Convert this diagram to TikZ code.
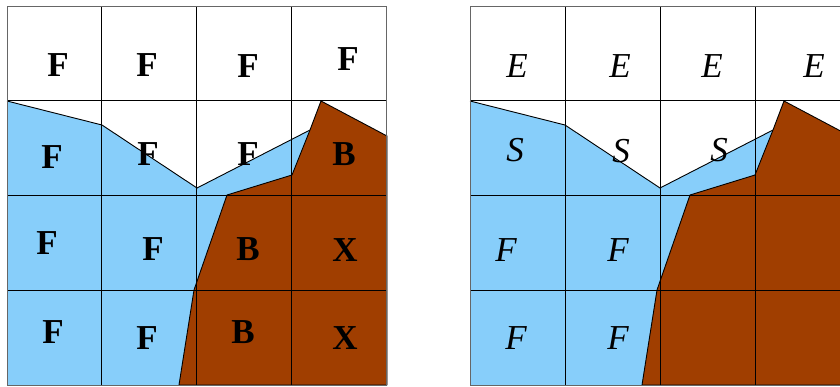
\documentclass[tikz,border=0pt]{standalone}
\usepackage{fontspec}
\setmainfont{Liberation Serif}
\definecolor{sky}{RGB}{135,206,250}
\definecolor{rust}{RGB}{160,62,0}
\tikzset{
  lbl/.style={inner sep=0pt, font=\fontsize{35}{35}\selectfont\bfseries},
  ilbl/.style={inner sep=0pt, font=\fontsize{35}{35}\selectfont\itshape},
  gridline/.style={black, line width=0.8pt},
  frame/.style={black!60, line width=1pt},
  edge/.style={black, line width=0.9pt},
  rock/.style={fill=rust, draw=black, line width=0.9pt, line join=round},
}
\begin{document}
\begin{tikzpicture}[x=1pt,y=-1pt]
\useasboundingbox (0,0) rectangle (840,386);
\fill[white] (0,0) rectangle (840,386);
\clip (0,0) rectangle (840,386);
% ---------- left grid ----------
\fill[sky] (7,101) -- (102,125) -- (197,188) -- (310,130) -- (292,175) -- (227,195) -- (194,290) -- (179,385) -- (7,385) -- cycle;
\draw[edge] (7,101) -- (102,125) -- (197,188) -- (310,130);
\filldraw[rock] (179,385) -- (194,290) -- (227,195) -- (292,175) -- (310,130) -- (321,101) -- (387,136) -- (387,385) -- cycle;
\foreach \x in {101.7,196.7,291.7} \draw[gridline] (\x,6) -- (\x,385);
\foreach \y in {100.7,195.3,290.3} \draw[gridline] (7,\y) -- (386,\y);
\draw[frame] (7,6) rectangle (386,385);
% labels left
\node[lbl] (l11) at (58,65) {F};
\node[lbl] (l12) at (147,65) {F};
\node[lbl] (l13) at (248,66) {F};
\node[lbl] (l14) at (348,59) {F};
\node[lbl] (l21) at (52,157) {F};
\node[lbl] (l22) at (148,154) {F};
\node[lbl] (l23) at (248,154) {F};
\node[lbl] (l24) at (344,154) {B};
\node[lbl] (l31) at (47,243) {F};
\node[lbl] (l32) at (153,249) {F};
\node[lbl] (l33) at (248,249) {B};
\node[lbl] (l34) at (345,250) {X};
\node[lbl] (l41) at (53,332) {F};
\node[lbl] (l42) at (147,338) {F};
\node[lbl] (l43) at (243,332) {B};
\node[lbl] (l44) at (345,338) {X};
% ---------- right grid ----------
\begin{scope}[xshift=463pt]
\fill[sky] (7,101) -- (102,125) -- (197,188) -- (310,130) -- (292,175) -- (227,195) -- (194,290) -- (179,385) -- (7,385) -- cycle;
\draw[edge] (7,101) -- (102,125) -- (197,188) -- (310,130);
\filldraw[rock] (179,385) -- (194,290) -- (227,195) -- (292,175) -- (310,130) -- (321,101) -- (387,136) -- (387,385) -- cycle;
\foreach \x in {102.3,197.7,292.7} \draw[gridline] (\x,6) -- (\x,385);
\foreach \y in {100.7,195.3,290.3} \draw[gridline] (7,\y) -- (388,\y);
\draw[frame] (7,6) rectangle (388,385);
\end{scope}
\node[ilbl] (r11) at (517,66) {E};
\node[ilbl] (r12) at (620,66) {E};
\node[ilbl] (r13) at (712,66) {E};
\node[ilbl] (r14) at (814,66) {E};
\node[ilbl] (r21) at (515,150) {S};
\node[ilbl] (r22) at (621,151) {S};
\node[ilbl] (r23) at (719,150) {S};
\node[ilbl] (r31) at (506,250) {F};
\node[ilbl] (r32) at (618,250) {F};
\node[ilbl] (r41) at (516,338) {F};
\node[ilbl] (r42) at (618,338) {F};
\end{tikzpicture}
\end{document}
